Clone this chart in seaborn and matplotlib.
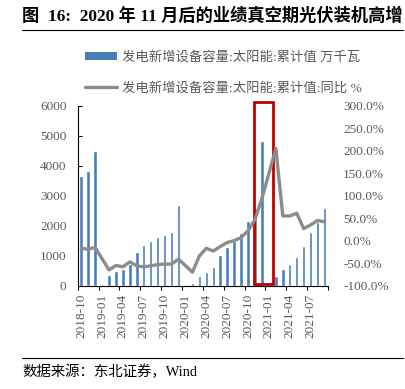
import numpy as np
import pandas as pd
import matplotlib
matplotlib.use("Agg")
import matplotlib.pyplot as plt
import seaborn as sns
from matplotlib.patches import Rectangle
from matplotlib.lines import Line2D
from matplotlib.patches import Patch
from matplotlib.ticker import FuncFormatter, FixedLocator

months = ["2018-10", "2018-11", "2018-12",
          "2019-01", "2019-02", "2019-03", "2019-04", "2019-05", "2019-06",
          "2019-07", "2019-08", "2019-09", "2019-10", "2019-11", "2019-12",
          "2020-01", "2020-02", "2020-03", "2020-04", "2020-05", "2020-06",
          "2020-07", "2020-08", "2020-09", "2020-10", "2020-11", "2020-12",
          "2021-01", "2021-02", "2021-03", "2021-04", "2021-05", "2021-06",
          "2021-07", "2021-08", "2021-09"]
capacity = [3660, 3835, 4475,
            np.nan, 360, 500, 550, 710, 1140,
            1360, 1500, 1620, 1700, 1800, 2680,
            np.nan, 100, 320, 450, 610, 1010,
            1300, 1500, 1750, 2170, 2590, 4830,
            np.nan, 320, 550, 710, 970, 1320,
            1800, 2130, 2590]
yoy = [-17, -19, -15,
       np.nan, -65, -55, -58, -47, -56,
       -58, -56, -53, -52, -52, -41,
       np.nan, -70, -34, -17, -23, -13,
       -4, 0, 7, 22, 47, 94,
       np.nan, 205, 55, 55, 61, 27,
       35, 45, 42]
tick_labels = ["2018-10", "2019-01", "2019-04", "2019-07", "2019-10", "2020-01",
               "2020-04", "2020-07", "2020-10", "2021-01", "2021-04", "2021-07"]
bar_label = "发电新增设备容量:太阳能:累计值 万千瓦"
line_label = "发电新增设备容量:太阳能:累计值:同比 %"
title = "图  16:  2020 年 11 月后的业绩真空期光伏装机高增"
source = "数据来源：东北证券，Wind"

df = pd.DataFrame({"month": months, "cap": capacity, "yoy": yoy})
df["pos"] = np.arange(len(df))

sns.set_theme(style="white")
plt.rcParams["font.family"] = ["Liberation Serif", "Noto Sans CJK SC"]

BLUE = "#4A7EBB"
GRAY = "#8C8C8C"
TXT = "#595959"

W, H = 405, 389
fig = plt.figure(figsize=(W / 100, H / 100), dpi=100)
ax = fig.add_axes([77.7 / W, 1 - 285.7 / H, (328 - 77.7) / W, (285.7 - 105.7) / H])

sns.barplot(data=df, x="month", y="cap", order=months, color=BLUE,
            width=0.5, saturation=1, ax=ax)
ax.set_xlim(-0.5, len(months) - 0.5)
ax.set_ylim(0, 6000)
ax.set_yticks([0, 1000, 2000, 3000, 4000, 5000, 6000])
ax.set_xlabel("")
ax.set_ylabel("")

# x ticks: labels every 3 months at centers, tick marks at boundaries
lab_pos = [months.index(m) for m in tick_labels]
ax.set_xticks(lab_pos)
ax.set_xticklabels(tick_labels, rotation=90, fontsize=9.5, color=TXT)
ax.xaxis.set_minor_locator(FixedLocator(np.arange(-0.5, len(months), 3)))
ax.tick_params(axis="x", which="major", length=0, pad=6)
ax.tick_params(axis="x", which="minor", length=3, width=0.8, color="black",
               direction="out", bottom=True)
ax.tick_params(axis="y", which="major", length=3, width=0.8, color="black",
               direction="in", left=True, pad=8, labelsize=9.5, labelcolor=TXT)
for s in ["top", "right"]:
    ax.spines[s].set_visible(False)
for s in ["left", "bottom"]:
    ax.spines[s].set_color("black")
    ax.spines[s].set_linewidth(0.8)

ax2 = ax.twinx()
ldf = df.dropna(subset=["yoy"])
sns.lineplot(data=ldf, x="pos", y="yoy", color=GRAY, linewidth=2.4, ax=ax2)
ax2.set_ylim(-100, 300)
ax2.set_yticks([-100, -50, 0, 50, 100, 150, 200, 250, 300])
ax2.yaxis.set_major_formatter(FuncFormatter(lambda v, p: f"{v:.1f}%"))
ax2.tick_params(axis="y", length=0, pad=11, labelsize=9.5, labelcolor=TXT)
ax2.set_ylabel("")
ax2.set_xlabel("")
ax2.set_xlim(-0.5, len(months) - 0.5)
for s in ax2.spines.values():
    s.set_visible(False)

# red highlight box
rect = Rectangle((24.85, 57), 2.7, 6080, fill=False, edgecolor="#C00000",
                 linewidth=2, clip_on=False, zorder=10, transform=ax.transData)
ax.add_patch(rect)

# legend
handles = [Patch(facecolor=BLUE, edgecolor="none"),
           Line2D([0], [0], color=GRAY, linewidth=2.4)]
fig.legend(handles, [bar_label, line_label], loc="upper left",
           bbox_to_anchor=(73 / W, 1 - 39 / H), frameon=False,
           labelcolor=TXT, labelspacing=1.35,
           handlelength=2.4, handleheight=0.5, handletextpad=0.35,
           prop={"family": ["Liberation Serif", "Noto Sans CJK SC"], "size": 9.6})

# title and rules
fig.text(22 / W, 1 - 16 / H, title, fontsize=12.4, fontweight="bold",
         color="black", ha="left", va="center")
fig.add_artist(Line2D([22 / W, 403 / W], [1 - 30 / H, 1 - 30 / H],
                      color="black", linewidth=0.8))
fig.add_artist(Line2D([22 / W, 403 / W], [1 - 357.7 / H, 1 - 357.7 / H],
                      color="black", linewidth=0.8))
fig.text(22 / W, 1 - 372 / H, source, fontsize=10.4, color="black",
         ha="left", va="center")

fig.savefig("out.png", dpi=100)
